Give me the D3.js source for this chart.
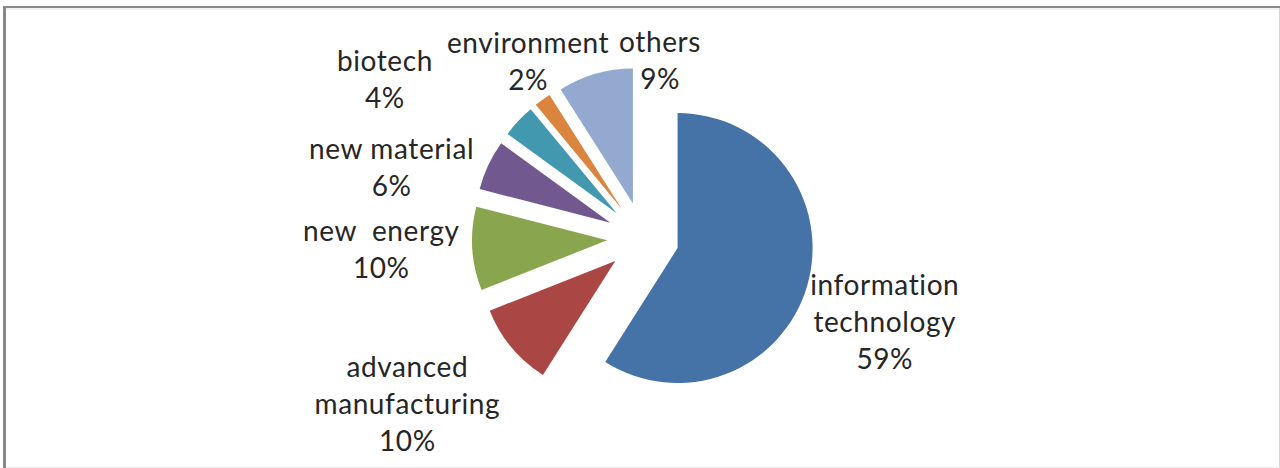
<!DOCTYPE html>
<html>
<head>
<meta charset="utf-8">
<script src="https://cdn.jsdelivr.net/npm/d3@7"></script>
<style>
  html, body { margin: 0; padding: 0; background: #fff; }
  svg { display: block; }
</style>
</head>
<body>
<svg id="chart" width="1280" height="468"></svg>
<script>
// ---- data ----
const categories = ["information technology", "advanced manufacturing", "new  energy", "new material", "biotech", "environment", "others"];
const labelLines = [["information", "technology"], ["advanced", "manufacturing"], ["new  energy"], ["new material"], ["biotech"], ["environment"], ["others"]];
const values = [59, 10, 10, 6, 4, 2, 9];
const colors = ["#4572A7", "#AA4643", "#89A54E", "#71588F", "#4198AF", "#DB843D", "#93A9CF"];

// ---- layout ----
const W = 1280, H = 468;
const cx = 643, cy = 238, R = 135, explode = 36;
// label anchor: [angle nudge (deg) from slice mid-angle, distance from centre]
const labelLayout = [[3, 256], [4.5, 288], [1, 262], [-9.6, 261], [-11.6, 303], [3, 211], [21.7, 178]];
const lineH = 37;

const svg = d3.select("#chart");

// frame
svg.append("line").attr("x1", 3).attr("x2", W).attr("y1", 7).attr("y2", 7).attr("stroke", "#888").attr("stroke-width", 2);
svg.append("line").attr("x1", 6).attr("x2", W).attr("y1", 9).attr("y2", 9).attr("stroke", "#e4e4e4").attr("stroke-width", 1);
svg.append("line").attr("x1", 4.5).attr("x2", 4.5).attr("y1", 6).attr("y2", H).attr("stroke", "#888").attr("stroke-width", 3);
svg.append("line").attr("x1", W - 0.5).attr("x2", W - 0.5).attr("y1", 8).attr("y2", H).attr("stroke", "#d4d4d4").attr("stroke-width", 1);
svg.append("line").attr("x1", 6).attr("x2", W).attr("y1", H - 0.5).attr("y2", H - 0.5).attr("stroke", "#ececec").attr("stroke-width", 1);

const pie = d3.pie().sort(null).value(d => d)(values);
const arc = d3.arc().innerRadius(0).outerRadius(R);

const g = svg.append("g").attr("transform", `translate(${cx},${cy})`);

g.selectAll("path.slice")
  .data(pie)
  .join("path")
  .attr("class", "slice")
  .attr("fill", (d, i) => colors[i])
  .attr("d", arc)
  .attr("transform", d => {
    const a = (d.startAngle + d.endAngle) / 2;
    return `translate(${explode * Math.sin(a)},${-explode * Math.cos(a)})`;
  });

// labels
g.selectAll("text.lbl")
  .data(pie)
  .join("text")
  .attr("class", "lbl")
  .attr("text-anchor", "middle")
  .attr("font-family", "Lato, 'Open Sans', sans-serif")
  .attr("font-size", 28)
  .attr("letter-spacing", 0.6)
  .attr("fill", "#262626")
  .each(function (d, i) {
    const a = (d.startAngle + d.endAngle) / 2 + labelLayout[i][0] * Math.PI / 180;
    const r = labelLayout[i][1];
    const x = r * Math.sin(a), y = -r * Math.cos(a);
    const lines = labelLines[i].concat([Math.round(values[i]) + "%"]);
    const top = y - (lines.length - 1) * lineH / 2 + 10;
    const t = d3.select(this);
    lines.forEach((ln, k) => {
      t.append("tspan").attr("x", x).attr("y", top + k * lineH).attr("xml:space", "preserve").text(ln);
    });
  });
</script>
</body>
</html>
